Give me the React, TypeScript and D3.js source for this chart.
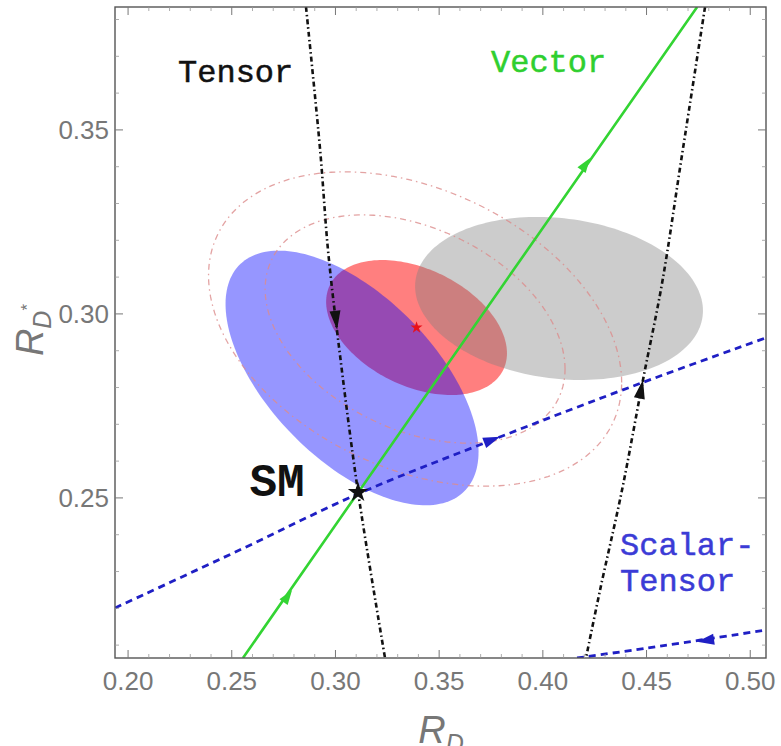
import React from "react";
import * as d3 from "d3";

const WIDTH = 781;
const HEIGHT = 746;

// axes
const xDomain: [number, number] = [0.1937, 0.5076];
const yDomain: [number, number] = [0.2065, 0.3834];
const xTickValues = [0.2, 0.25, 0.3, 0.35, 0.4, 0.45, 0.5];
const yTickValues = [0.25, 0.3, 0.35];
const xMinorValues = [0.21, 0.22, 0.23, 0.24, 0.26, 0.27, 0.28, 0.29, 0.31, 0.32, 0.33, 0.34, 0.36, 0.37, 0.38, 0.39, 0.41, 0.42, 0.43, 0.44, 0.46, 0.47, 0.48, 0.49];
const yMinorValues = [0.21, 0.22, 0.23, 0.24, 0.26, 0.27, 0.28, 0.29, 0.31, 0.32, 0.33, 0.34, 0.36, 0.37, 0.38];

// filled 1-sigma regions (center, sigmas, correlation)
const regionNames = ["red", "grey", "blue"];
const regionCenterX = [0.3391, 0.4078, 0.308];
const regionCenterY = [0.2963, 0.3042, 0.2826];
const regionSigmaX = [0.0436, 0.0694, 0.061];
const regionSigmaY = [0.01834, 0.02215, 0.0346];
const regionRho = [-0.38, -0.15, -0.58];

// dash-dotted contours around the red fit
const contourCenterX = [0.3384, 0.3384];
const contourCenterY = [0.2959, 0.2959];
const contourSigmaX = [0.0723, 0.0996];
const contourSigmaY = [0.031, 0.0427];
const contourRho = [-0.35, -0.34];

// NP curves
const vectorCurve: [number, number][] = [[0.2554, 0.2065], [0.3111, 0.2516], [0.4744, 0.3834]];
const scalarTensorUpper: [number, number][] = [[0.1937, 0.2201], [0.254, 0.2359], [0.3109, 0.2511], [0.3745, 0.2655], [0.4478, 0.2813], [0.5076, 0.2935]];
const scalarTensorLower: [number, number][] = [[0.4165, 0.2065], [0.4503, 0.2092], [0.5076, 0.2141]];
const tensorLeft: [number, number][] = [[0.2858, 0.3834], [0.2926, 0.3446], [0.2964, 0.3174], [0.3013, 0.2929], [0.3109, 0.2516], [0.3239, 0.2065]];
const tensorRight: [number, number][] = [[0.4782, 0.3834], [0.4671, 0.3432], [0.4575, 0.3084], [0.4483, 0.2821], [0.4382, 0.2522], [0.4276, 0.225], [0.4208, 0.2065]];

// arrows on the curves
const arrowCurve = ["vector", "vector", "tensorLeft", "tensorRight", "scalarTensorUpper", "scalarTensorLower"];
const arrowX = [0.4228, 0.2791, 0.3008, 0.4483, 0.3794, 0.4744];
const arrowY = [0.3424, 0.225, 0.2957, 0.2821, 0.2666, 0.2109];
const arrowForward = [true, true, true, false, true, false];

// points
const smPoint: [number, number] = [0.3109, 0.2515];
const fitPoint: [number, number] = [0.3391, 0.2963];

const curves: Record<string, [number, number][]> = {
  vector: vectorCurve,
  scalarTensorUpper,
  scalarTensorLower,
  tensorLeft,
  tensorRight,
};

const curveStyle: Record<string, { stroke: string; width: number; dash?: string; arrowL: number; arrowW: number }> = {
  vector: { stroke: "#33d433", width: 2.6, arrowL: 15, arrowW: 5 },
  scalarTensorUpper: { stroke: "#1f1fc4", width: 2.8, dash: "7,5", arrowL: 17, arrowW: 5.5 },
  scalarTensorLower: { stroke: "#1f1fc4", width: 2.8, dash: "7,5", arrowL: 17, arrowW: 5.5 },
  tensorLeft: { stroke: "#111", width: 2.6, dash: "5,3,1.5,3", arrowL: 19, arrowW: 5.5 },
  tensorRight: { stroke: "#111", width: 2.6, dash: "5,3,1.5,3", arrowL: 19, arrowW: 5.5 },
};

const regionFill: Record<string, { fill: string; opacity: number }> = {
  red: { fill: "rgb(255,0,0)", opacity: 0.5 },
  grey: { fill: "rgb(128,128,128)", opacity: 0.4 },
  blue: { fill: "rgb(0,0,255)", opacity: 0.41 },
};

const L = 115, R = 766, T = 7, B = 658;

export default function App() {
  const x = d3.scaleLinear().domain(xDomain).range([L, R]);
  const y = d3.scaleLinear().domain(yDomain).range([B, T]);

  const ellipsePath = (cx: number, cy: number, sx: number, sy: number, rho: number) => {
    const s = Math.sqrt(1 - rho * rho);
    const pts: [number, number][] = d3.range(0, 181).map((i) => {
      const t = (i / 180) * 2 * Math.PI;
      return [cx + sx * Math.cos(t), cy + sy * (rho * Math.cos(t) + s * Math.sin(t))];
    });
    return d3.line<[number, number]>().x((d) => x(d[0])).y((d) => y(d[1])).curve(d3.curveLinearClosed)(pts) || "";
  };

  const curveLine = d3
    .line<[number, number]>()
    .x((d) => x(d[0]))
    .y((d) => y(d[1]))
    .curve(d3.curveCatmullRom);

  const arrowPath = (i: number) => {
    const name = arrowCurve[i];
    const pts = curves[name].map((p) => [x(p[0]), y(p[1])]);
    const px = x(arrowX[i]);
    const py = y(arrowY[i]);
    let best = 0;
    let bestD = Infinity;
    for (let k = 0; k < pts.length - 1; k++) {
      const mx = (pts[k][0] + pts[k + 1][0]) / 2;
      const my = (pts[k][1] + pts[k + 1][1]) / 2;
      const dd = (mx - px) ** 2 + (my - py) ** 2;
      if (dd < bestD) {
        bestD = dd;
        best = k;
      }
    }
    let dx = pts[best + 1][0] - pts[best][0];
    let dy = pts[best + 1][1] - pts[best][1];
    const n = Math.hypot(dx, dy);
    dx /= n;
    dy /= n;
    if (!arrowForward[i]) {
      dx = -dx;
      dy = -dy;
    }
    const st = curveStyle[name];
    const bx = px - dx * st.arrowL;
    const by = py - dy * st.arrowL;
    const nx = -dy * st.arrowW;
    const ny = dx * st.arrowW;
    return { d: `M${px},${py}L${bx + nx},${by + ny}L${bx - nx},${by - ny}Z`, fill: st.stroke };
  };

  const star = d3.symbol().type(d3.symbolStar);
  const tickColor = "#777";
  const labelFont = "'Liberation Sans', Arial, sans-serif";
  const monoFont = "'Liberation Mono', 'Courier New', monospace";

  return (
    <svg width={WIDTH} height={HEIGHT} style={{ position: "absolute", left: 0, top: 0, background: "#fff" }}>
      <defs>
        <clipPath id="plotClip">
          <rect x={L} y={T} width={R - L} height={B - T} />
        </clipPath>
      </defs>
      <rect x={0} y={0} width={WIDTH} height={HEIGHT} fill="#fff" />
      <g clipPath="url(#plotClip)">
        {regionNames.map((nm, i) => (
          <path
            key={nm}
            d={ellipsePath(regionCenterX[i], regionCenterY[i], regionSigmaX[i], regionSigmaY[i], regionRho[i])}
            fill={regionFill[nm].fill}
            fillOpacity={regionFill[nm].opacity}
            stroke="none"
          />
        ))}
        {contourSigmaX.map((_, i) => (
          <path
            key={"c" + i}
            d={ellipsePath(contourCenterX[i], contourCenterY[i], contourSigmaX[i], contourSigmaY[i], contourRho[i])}
            fill="none"
            stroke="#dc8c8c"
            strokeOpacity={0.8}
            strokeWidth={1.3}
            strokeDasharray="6,4,1.5,4"
          />
        ))}
        {Object.keys(curves).map((nm) => (
          <path
            key={nm}
            d={curveLine(curves[nm]) || ""}
            fill="none"
            stroke={curveStyle[nm].stroke}
            strokeWidth={curveStyle[nm].width}
            strokeDasharray={curveStyle[nm].dash}
          />
        ))}
        {arrowCurve.map((_, i) => {
          const a = arrowPath(i);
          return <path key={"a" + i} d={a.d} fill={a.fill} />;
        })}
        <path d={star.size(130)() || ""} transform={`translate(${x(smPoint[0])},${y(smPoint[1])})`} fill="#111" />
        <path d={star.size(45)() || ""} transform={`translate(${x(fitPoint[0])},${y(fitPoint[1])})`} fill="#e8101a" />
      </g>

      {/* frame */}
      <rect x={L} y={T} width={R - L} height={B - T} fill="none" stroke="#555" strokeWidth={1.4} />
      {xTickValues.map((v) => (
        <g key={"xt" + v}>
          <line x1={x(v)} x2={x(v)} y1={B} y2={B - 8} stroke="#777" strokeWidth={1} />
          <line x1={x(v)} x2={x(v)} y1={T} y2={T + 8} stroke="#777" strokeWidth={1} />
          <text x={x(v)} y={690} textAnchor="middle" fontFamily={labelFont} fontSize={26} fill={tickColor}>
            {v.toFixed(2)}
          </text>
        </g>
      ))}
      {xMinorValues.map((v) => (
        <g key={"xm" + v}>
          <line x1={x(v)} x2={x(v)} y1={B} y2={B - 4} stroke="#999" strokeWidth={0.8} />
          <line x1={x(v)} x2={x(v)} y1={T} y2={T + 4} stroke="#999" strokeWidth={0.8} />
        </g>
      ))}
      {yTickValues.map((v) => (
        <g key={"yt" + v}>
          <line x1={L} x2={L + 8} y1={y(v)} y2={y(v)} stroke="#777" strokeWidth={1} />
          <line x1={R} x2={R - 8} y1={y(v)} y2={y(v)} stroke="#777" strokeWidth={1} />
          <text x={109} y={y(v) + 9.5} textAnchor="end" fontFamily={labelFont} fontSize={26} fill={tickColor}>
            {v.toFixed(2)}
          </text>
        </g>
      ))}
      {yMinorValues.map((v) => (
        <g key={"ym" + v}>
          <line x1={L} x2={L + 4} y1={y(v)} y2={y(v)} stroke="#999" strokeWidth={0.8} />
          <line x1={R} x2={R - 4} y1={y(v)} y2={y(v)} stroke="#999" strokeWidth={0.8} />
        </g>
      ))}

      {/* axis labels */}
      <text x={441} y={743} textAnchor="middle" fontFamily={labelFont} fill="#777">
        <tspan fontStyle="italic" fontSize={38}>R</tspan>
        <tspan fontStyle="italic" fontSize={25} dy={9}>D</tspan>
      </text>
      <text transform={`translate(43,330) rotate(-90)`} textAnchor="middle" fontFamily={labelFont} fill="#777">
        <tspan fontStyle="italic" fontSize={38}>R</tspan>
        <tspan fontStyle="italic" fontSize={25} dy={8}>D</tspan>
        <tspan fontSize={17} dy={-18}>*</tspan>
      </text>

      {/* annotations */}
      <text x={x(0.2241)} y={y(0.363)} fontFamily={monoFont} fontSize={32} fill="#111" stroke="#111" strokeWidth={0.5}>
        Tensor
      </text>
      <text x={x(0.375)} y={y(0.3658)} fontFamily={monoFont} fontSize={32} fill="#2fcf2f" stroke="#2fcf2f" strokeWidth={0.5}>
        Vector
      </text>
      <text x={x(0.4372)} y={y(0.2345)} fontFamily={monoFont} fontSize={32} fill="#3b3bd6" stroke="#3b3bd6" strokeWidth={0.5}>
        Scalar-
      </text>
      <text x={x(0.4372)} y={y(0.2247)} fontFamily={monoFont} fontSize={32} fill="#3b3bd6" stroke="#3b3bd6" strokeWidth={0.5}>
        Tensor
      </text>
      <text x={x(0.2585)} y={y(0.2505)} fontFamily={monoFont} fontSize={46} fontWeight="bold" fill="#111">
        SM
      </text>
    </svg>
  );
}
